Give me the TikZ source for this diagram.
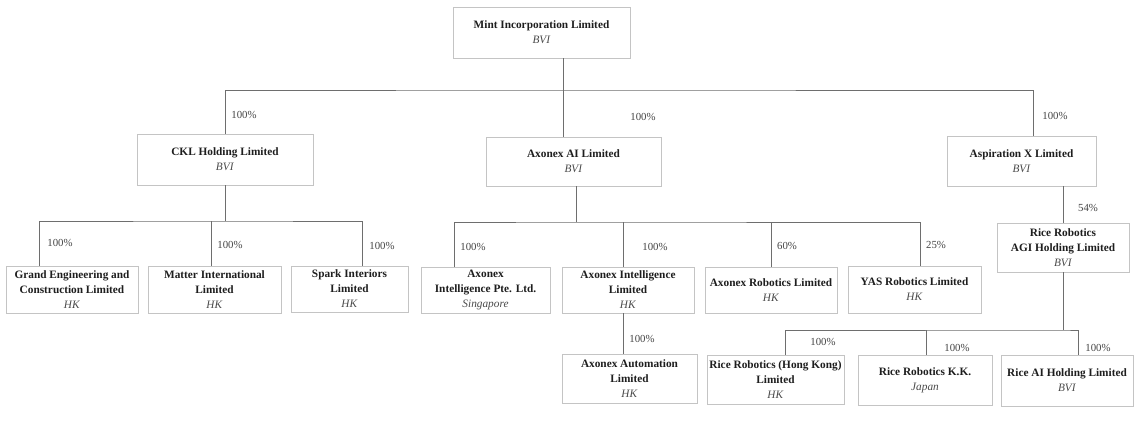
\documentclass[tikz,border=0pt]{standalone}
\usepackage{fontspec}
\setmainfont{Liberation Serif}
\definecolor{boxline}{HTML}{C4C4C4}
\definecolor{connline}{HTML}{6E6E6E}
\definecolor{nametext}{HTML}{1E1E1E}
\definecolor{jurtext}{HTML}{4A4A4A}
\definecolor{pcttext}{HTML}{454545}
\newcommand\entname[1]{\textbf{#1}}
\newcommand\entjur[1]{\textcolor{jurtext}{\textit{#1}}}
\begin{document}
\begin{tikzpicture}[x=1pt,y=-1pt,
  ent/.style={draw=boxline, line width=0.8pt, fill=white, align=center, inner sep=0pt,
    font=\fontsize{11.3}{15}\selectfont, text=nametext},
  conn/.style={draw=connline, line width=0.8pt},
  pct/.style={font=\fontsize{10.8}{13}\selectfont, text=pcttext, inner sep=0pt}]
\useasboundingbox[fill=white] (0,0) rectangle (1147,420);

% entities
\node[ent, minimum width=177pt, minimum height=51pt] (mint) at (541.5,32.5) {\entname{Mint Incorporation Limited}\\\entjur{BVI}};
\node[ent, minimum width=176pt, minimum height=51pt] (ckl) at (225,159.5) {\entname{CKL Holding Limited}\\\entjur{BVI}};
\node[ent, minimum width=175pt, minimum height=49pt] (axai) at (573.5,161.5) {\entname{Axonex AI Limited}\\\entjur{BVI}};
\node[ent, minimum width=149pt, minimum height=50pt] (asp) at (1021.5,161) {\entname{Aspiration X Limited}\\\entjur{BVI}};

\node[ent, minimum width=132pt, minimum height=47pt] (grand) at (72,289.5) {\entname{Grand Engineering and}\\\entname{Construction Limited}\\\entjur{HK}};
\node[ent, minimum width=133pt, minimum height=47pt] (matter) at (214.5,289.5) {\entname{Matter International}\\\entname{Limited}\\\entjur{HK}};
\node[ent, minimum width=117pt, minimum height=46pt] (spark) at (349.5,289) {\entname{Spark Interiors}\\\entname{Limited}\\\entjur{HK}};

\node[ent, minimum width=129pt, minimum height=46pt] (pte) at (485.5,290) {\entname{Axonex}\\\entname{Intelligence Pte. Ltd.}\\\entjur{Singapore}};
\node[ent, minimum width=132pt, minimum height=46pt] (axint) at (628,290) {\entname{Axonex Intelligence}\\\entname{Limited}\\\entjur{HK}};
\node[ent, minimum width=132pt, minimum height=46pt] (axrob) at (771,290) {\entname{Axonex Robotics Limited}\\\entjur{HK}};
\node[ent, minimum width=133pt, minimum height=47pt] (yas) at (914.5,289.5) {\entname{YAS Robotics Limited}\\\entjur{HK}};

\node[ent, minimum width=132pt, minimum height=49pt] (agi) at (1063,247.5) {\entname{Rice Robotics}\\\entname{AGI Holding Limited}\\\entjur{BVI}};

\node[ent, minimum width=135pt, minimum height=49pt] (auto) at (629.5,378.5) {\entname{Axonex Automation}\\\entname{Limited}\\\entjur{HK}};
\node[ent, minimum width=137pt, minimum height=49pt] (rhk) at (775.5,379.5) {\entname{Rice Robotics (Hong Kong)}\\\entname{Limited}\\\entjur{HK}};
\node[ent, minimum width=134pt, minimum height=50pt] (kk) at (925,380) {\entname{Rice Robotics K.K.}\\\entjur{Japan}};
\node[ent, minimum width=132pt, minimum height=51pt] (rai) at (1067,380.5) {\entname{Rice AI Holding Limited}\\\entjur{BVI}};

% junction coordinates
\coordinate (tb) at (563,90);
\coordinate (bar1) at (225,221);
\coordinate (bar2) at (576,222);
\coordinate (bar3) at (1063,330);

% connectors: top level
\draw[conn] ([xshift=21.5pt]mint.south) -- ([xshift=-10.5pt]axai.north);
\draw[conn] (ckl.north) |- (tb) -| ([xshift=11.5pt]asp.north);

% CKL subsidiaries
\draw[conn] (ckl.south) -- (bar1);
\draw[conn] ([xshift=-33pt]grand.north) |- (bar1) -| ([xshift=12.5pt]spark.north);
\draw[conn] ([xshift=-3.5pt]matter.north) -- ([xshift=-3.5pt]matter.north |- bar1);

% Axonex AI subsidiaries
\draw[conn] ([xshift=2.5pt]axai.south) -- (bar2);
\draw[conn] ([xshift=-31.5pt]pte.north) |- (bar2) -| ([xshift=5.5pt]yas.north);
\draw[conn] ([xshift=-5pt]axint.north) -- ([xshift=-5pt]axint.north |- bar2);
\draw[conn] (axrob.north) -- (axrob.north |- bar2);
\draw[conn] ([xshift=-5pt]axint.south) -- ([xshift=-6.5pt]auto.north);

% Aspiration X
\draw[conn] ([xshift=41.5pt]asp.south) -- (agi.north);
\draw[conn] (agi.south) -- (bar3);
\draw[conn] ([xshift=9.5pt]rhk.north) |- (bar3) -| ([xshift=11pt]rai.north);
\draw[conn] ([xshift=1pt]kk.north) -- ([xshift=1pt]kk.north |- bar3);

% percentages
\node[pct] (p1) at (244,115) {100\%};
\node[pct] (p2) at (643,117) {100\%};
\node[pct] (p3) at (1055,116) {100\%};
\node[pct] (p4) at (60,243) {100\%};
\node[pct] (p5) at (230,245) {100\%};
\node[pct] (p6) at (382,246) {100\%};
\node[pct] (p7) at (473,247) {100\%};
\node[pct] (p8) at (655,247) {100\%};
\node[pct] (p9) at (787,246) {60\%};
\node[pct] (p10) at (936,245) {25\%};
\node[pct] (p11) at (1088,208) {54\%};
\node[pct] (p12) at (642,339) {100\%};
\node[pct] (p13) at (823,342) {100\%};
\node[pct] (p14) at (957,348) {100\%};
\node[pct] (p15) at (1098,348) {100\%};
\end{tikzpicture}
\end{document}
